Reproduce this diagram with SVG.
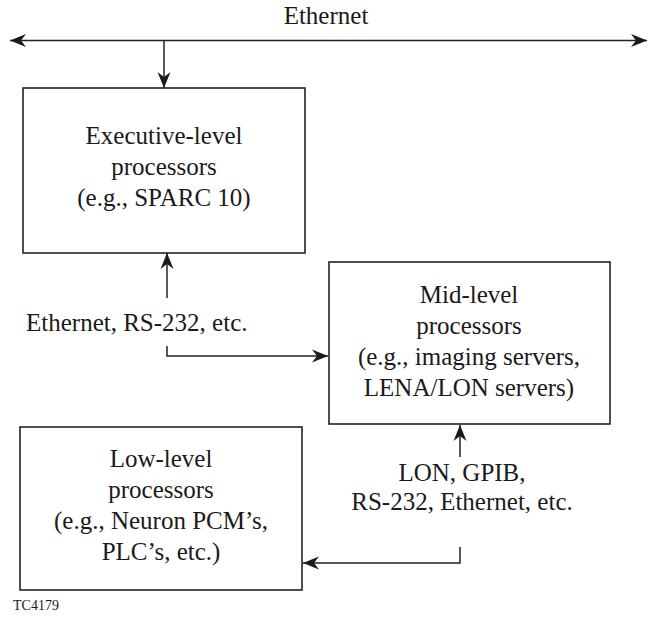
<svg xmlns="http://www.w3.org/2000/svg" width="652" height="618" viewBox="0 0 652 618">
<defs>
<marker id="ah" viewBox="-16 -7 17 14" refX="0" refY="0" markerWidth="17" markerHeight="14" markerUnits="userSpaceOnUse" orient="auto-start-reverse">
<path d="M0,0 L-16,-6.5 L-11,0 L-16,6.5 Z" fill="#1a1a1a"/>
</marker>
</defs>
<style>
.box{fill:#fff;stroke:#222;stroke-width:1.6}
.ln{fill:none;stroke:#222;stroke-width:1.5}
.t{font-family:"Liberation Serif","Times New Roman",Tinos,"DejaVu Serif",serif;font-size:25px;fill:#1a1a1a}
.c{text-anchor:middle}
.s{font-size:14px}
</style>
<rect width="652" height="618" fill="#fff"/>
<g id="connectors">
<line class="ln" x1="10" y1="40.5" x2="647" y2="40.5" marker-start="url(#ah)" marker-end="url(#ah)"/>
<line class="ln" x1="164" y1="40.5" x2="164" y2="88" marker-end="url(#ah)"/>
<line class="ln" x1="167" y1="298" x2="167" y2="253" marker-end="url(#ah)"/>
<polyline class="ln" points="167,346 167,356 328,356" marker-end="url(#ah)"/>
<line class="ln" x1="460" y1="457" x2="460" y2="425" marker-end="url(#ah)"/>
<polyline class="ln" points="460,547 460,563 303,563" marker-end="url(#ah)"/>
</g>
<g class="t">
<text class="c" x="326" y="24">Ethernet</text>
<g id="exec">
<rect class="box" x="23" y="88" width="282" height="165"/>
<text class="c" x="164" y="144">Executive-level</text>
<text class="c" x="164" y="175">processors</text>
<text class="c" x="164" y="206">(e.g., SPARC 10)</text>
</g>
<text x="26" y="331">Ethernet, RS-232, etc.</text>
<g id="mid">
<rect class="box" x="329" y="262" width="281" height="162"/>
<text class="c" x="469" y="303">Mid-level</text>
<text class="c" x="469" y="334">processors</text>
<text class="c" x="469" y="365">(e.g., imaging servers,</text>
<text class="c" x="469" y="396">LENA/LON servers)</text>
</g>
<g id="low">
<rect class="box" x="20" y="427" width="282" height="163"/>
<text class="c" x="161" y="467">Low-level</text>
<text class="c" x="161" y="498">processors</text>
<text class="c" x="161" y="529">(e.g., Neuron PCM’s,</text>
<text class="c" x="161" y="560">PLC’s, etc.)</text>
</g>
<text class="c" x="462" y="481">LON, GPIB,</text>
<text class="c" x="462" y="510">RS-232, Ethernet, etc.</text>
<text class="s" x="13" y="610">TC4179</text>
</g>
</svg>
